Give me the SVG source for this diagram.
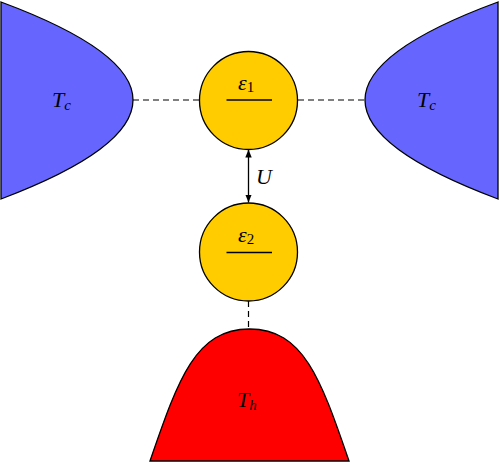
<svg xmlns="http://www.w3.org/2000/svg" width="499" height="462" viewBox="0 0 499 462">
<style>
.res{stroke:#000;stroke-width:1.3;}
.cold{fill:#6666FF;}
.hot{fill:#FF0000;}
.dot{fill:#FFCC00;stroke:#000;stroke-width:1.3;}
.dash{stroke:#000;stroke-width:1.2;stroke-dasharray:6,4;fill:none;}
.m{font-family:"Liberation Serif","DejaVu Serif",serif;font-style:italic;font-size:22px;fill:#000;}
.s{font-size:15px;}
.n{font-family:"Liberation Serif","DejaVu Serif",serif;font-style:normal;font-size:15px;fill:#000;}
.lvl{stroke:#000;stroke-width:1.3;}
</style>
<defs>
<marker id="ah" viewBox="0 0 10 10" refX="10" refY="5" markerWidth="8" markerHeight="8" markerUnits="userSpaceOnUse" orient="auto-start-reverse">
<path d="M0,1 L10,5 L0,9 Z" fill="#000"/>
</marker>
</defs>
<g id="connectors">
<line class="dash" x1="133" y1="100" x2="199" y2="100"/>
<line class="dash" x1="298" y1="100" x2="365" y2="100"/>
<line class="dash" x1="248.5" y1="301" x2="248.5" y2="329"/>
<line x1="248.5" y1="149.5" x2="248.5" y2="202.5" stroke="#000" stroke-width="1.3" marker-start="url(#ah)" marker-end="url(#ah)"/>
<text class="m" x="256" y="184">U</text>
</g>
<g id="Tc-left">
<path class="res cold" d="M1,2 Q133,51 133,100 Q133,149 1,199 Z"/>
<text class="m" x="52" y="107">T<tspan class="s" dy="3">c</tspan></text>
</g>
<g id="Tc-right">
<path class="res cold" d="M498,2 Q365,51 365,100 Q365,149 498,199 Z"/>
<text class="m" x="417" y="107">T<tspan class="s" dy="3">c</tspan></text>
</g>
<g id="eps1">
<circle class="dot" cx="248.5" cy="100.5" r="49"/>
<text x="238" y="90"><tspan class="m" style="font-size:22px">ε</tspan><tspan class="n" dy="2">1</tspan></text>
<line class="lvl" x1="226.5" y1="100" x2="272" y2="100"/>
</g>
<g id="eps2">
<circle class="dot" cx="248.5" cy="252" r="49"/>
<text x="238" y="242"><tspan class="m" style="font-size:22px">ε</tspan><tspan class="n" dy="2">2</tspan></text>
<line class="lvl" x1="226.5" y1="252.5" x2="272" y2="252.5"/>
</g>
<g id="Th">
<path class="res hot" d="M150,461 C178,380 195,329 249.5,329 C304,329 321,380 349,461 Z"/>
<text class="m" x="237" y="407">T<tspan class="s" dy="3">h</tspan></text>
</g>
</svg>
